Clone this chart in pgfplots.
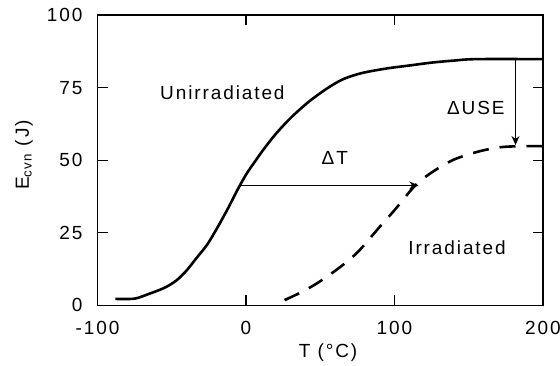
\documentclass[border=0pt]{standalone}
\usepackage{pgfplots}
\pgfplotsset{compat=1.18}
\usetikzlibrary{arrows.meta}
\usepackage{fontspec}
\setmainfont{Liberation Sans}[LetterSpace=10]
\newcommand\lbl{\fontsize{19}{21}\selectfont}
\begin{document}
\begin{tikzpicture}
\begin{axis}[
  name=ax,
  scale only axis,
  width=445.5pt, height=290.3pt,
  xmin=-100, xmax=200, ymin=0, ymax=100,
  xtick={-100,0,100,200}, xticklabels={-100,0,100,200},
  ytick={0,25,50,75,100}, yticklabels={0,25,50,75,100},
  tick align=inside,
  major tick length=10pt,
  axis line style={line width=1.3pt},
  every tick/.style={line width=1.2pt, black},
  tick label style={font=\lbl},
  xticklabel style={yshift=-12pt},
  yticklabel style={xshift=-11.5pt},
  clip=false,
]
\addplot[black, line width=2.6pt, smooth, tension=0.5] coordinates {
(-88,2.2) (-75,2.3) (-65,4) (-55,6) (-47,8.5) (-40,12) (-33,16.5)
(-26,21) (-19,27) (-12,33.5) (-6,39.5) (0,45) (6,49.5) (12,53.8)
(20,59) (30,64.5) (42,70) (54,74.5) (65,77.8) (78,80) (95,81.6)
(110,82.6) (125,83.6) (140,84.3) (155,84.8) (200,84.8)
};
\addplot[black, line width=2.6pt, smooth, tension=0.5, dash pattern=on 16pt off 11pt] coordinates {
(26,1.8) (36,4.2) (46,7) (56,10.4) (66,14.2) (75,18.2) (83,22.8)
(90,27) (97,31) (104,35.2) (110,39) (116,42.3) (124,45.4) (132,48)
(140,50.2) (150,52) (160,53.4) (172,54.5) (185,54.8) (200,54.8)
};
\draw[line width=1pt, -{Stealth[length=9pt,width=8pt]}] (axis cs:-4,41.3) -- (axis cs:116,41.3);
\draw[line width=1pt, -{Stealth[length=9pt,width=8pt]}] (axis cs:181.5,84.8) -- (axis cs:181.5,55.2);
\node[font=\lbl] at (axis cs:-15.9,73.4) {Unirradiated};
\node[font=\lbl] at (axis cs:142.1,19.9) {Irradiated};
\node[font=\lbl] at (axis cs:59.8,50.6) {ΔT};
\node[font=\lbl] at (axis cs:154.8,68.1) {ΔUSE};
\end{axis}
\path (ax.south west) ++(230.5pt,-47pt) node[font=\lbl] {T (°C)};
\path (ax.south west) ++(-73.5pt,150.3pt) node[rotate=90,font=\lbl] {E\textsubscript{cvn} (J)};
\pgfresetboundingbox
\path (ax.south west) ++(-97.5pt,-60.7pt) rectangle ++(560pt,366pt);
\end{tikzpicture}
\end{document}
